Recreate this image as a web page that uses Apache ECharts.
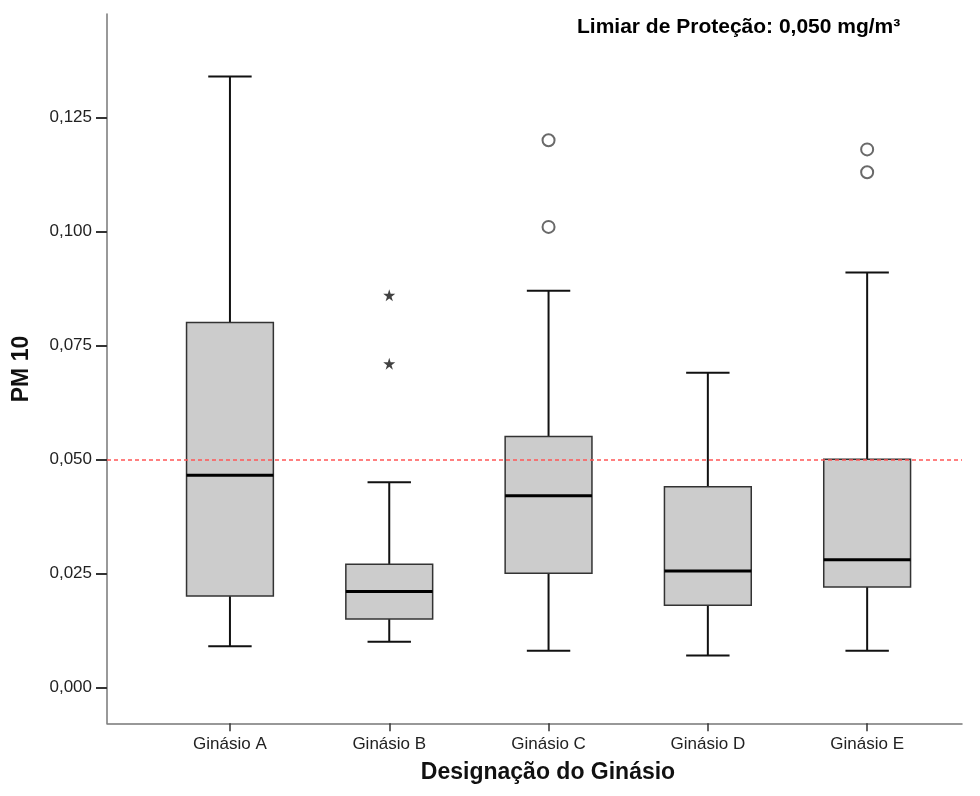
<!DOCTYPE html>
<html>
<head>
<meta charset="utf-8">
<script src="https://cdn.jsdelivr.net/npm/echarts@6/dist/echarts.min.js"></script>
<style>html,body{margin:0;padding:0;background:#fff}#c{width:980px;height:796px}</style>
</head>
<body>
<div id="c"></div>
<script>
const categories = ['Ginásio A', 'Ginásio B', 'Ginásio C', 'Ginásio D', 'Ginásio E'];
const lowerWhisker = [0.009, 0.010, 0.008, 0.007, 0.008];
const q1 = [0.020, 0.015, 0.025, 0.018, 0.022];
const median = [0.0465, 0.021, 0.042, 0.0255, 0.028];
const q3 = [0.080, 0.027, 0.055, 0.044, 0.050];
const upperWhisker = [0.134, 0.045, 0.087, 0.069, 0.091];
const outlierCategory = ['Ginásio C', 'Ginásio C', 'Ginásio E', 'Ginásio E'];
const outlierValue = [0.120, 0.101, 0.118, 0.113];
const extremeCategory = ['Ginásio B', 'Ginásio B'];
const extremeValue = [0.086, 0.071];
const yTicks = [0, 0.025, 0.05, 0.075, 0.1, 0.125];
const threshold = 0.050;
const yMin = -0.0079, yMax = 0.1477;

const FONT = '"Liberation Sans", Arial, sans-serif';
const chart = echarts.init(document.getElementById('c'), null, {renderer: 'canvas'});

const boxData = categories.map((c, i) => [i, lowerWhisker[i], q1[i], median[i], q3[i], upperWhisker[i]]);
const outData = outlierCategory.map((c, i) => [c, outlierValue[i]]);
const extData = extremeCategory.map((c, i) => [c, extremeValue[i]]);

function renderBox(params, api) {
  const x = api.value(0);
  const lo = api.coord([x, api.value(1)]);
  const p1 = api.coord([x, api.value(2)]);
  const pm = api.coord([x, api.value(3)]);
  const p3 = api.coord([x, api.value(4)]);
  const hi = api.coord([x, api.value(5)]);
  const band = api.size([1, 0])[0];
  const bw = band * 0.545;
  const cw = bw / 2;
  const cx = lo[0];
  const ws = {stroke: '#111', lineWidth: 2};
  return {
    type: 'group',
    children: [
      {type: 'line', shape: {x1: cx, y1: hi[1], x2: cx, y2: p3[1]}, style: ws},
      {type: 'line', shape: {x1: cx, y1: p1[1], x2: cx, y2: lo[1]}, style: ws},
      {type: 'line', shape: {x1: cx - cw / 2, y1: hi[1], x2: cx + cw / 2, y2: hi[1]}, style: ws},
      {type: 'line', shape: {x1: cx - cw / 2, y1: lo[1], x2: cx + cw / 2, y2: lo[1]}, style: ws},
      {type: 'rect', shape: {x: cx - bw / 2, y: p3[1], width: bw, height: p1[1] - p3[1]},
        style: {fill: '#cccccc', stroke: '#333', lineWidth: 1.5}},
      {type: 'line', shape: {x1: cx - bw / 2, y1: pm[1], x2: cx + bw / 2, y2: pm[1]},
        style: {stroke: '#000', lineWidth: 3}}
    ]
  };
}

const option = {
  backgroundColor: '#ffffff',
  animation: false,
  textStyle: {fontFamily: FONT},
  grid: [
    {left: 150.3, right: 33.2, top: 14, bottom: 72.7},
    {left: 107, right: 18, top: 14, bottom: 72.7}
  ],
  xAxis: [
    {
      type: 'category', gridIndex: 0, data: categories, boundaryGap: true, position: 'bottom',
      axisLine: {show: false, onZero: false},
      axisTick: {show: true, alignWithLabel: true, length: 8, lineStyle: {color: '#333', width: 1.5}},
      axisLabel: {fontSize: 17, color: '#222', margin: 13, fontFamily: FONT},
      splitLine: {show: false}
    },
    {
      type: 'value', gridIndex: 1, min: 0, max: 1, position: 'bottom',
      axisLine: {show: true, onZero: false, lineStyle: {color: '#777', width: 1.5}},
      axisTick: {show: false}, axisLabel: {show: false}, splitLine: {show: false}
    }
  ],
  yAxis: [
    {
      type: 'value', gridIndex: 0, min: yMin, max: yMax,
      show: false, splitLine: {show: false}
    },
    {
      type: 'value', gridIndex: 1, min: yMin, max: yMax, position: 'left',
      axisLine: {show: true, onZero: false, lineStyle: {color: '#777', width: 1.5}},
      axisTick: {show: true, customValues: yTicks, length: 11, lineStyle: {color: '#333', width: 2}},
      axisLabel: {
        show: true, customValues: yTicks, fontSize: 17, color: '#222', margin: 15, fontFamily: FONT,
        formatter: v => v.toFixed(3).replace('.', ',')
      },
      splitLine: {show: false}
    }
  ],
  series: [
    {
      type: 'line', xAxisIndex: 1, yAxisIndex: 1, data: [], silent: true,
      markLine: {
        silent: true, symbol: 'none', label: {show: false},
        lineStyle: {color: '#ff5555', type: [4, 3], width: 1.5},
        data: [{yAxis: threshold}]
      }
    },
    {
      type: 'custom', xAxisIndex: 0, yAxisIndex: 0, renderItem: renderBox,
      encode: {x: 0, y: [1, 2, 3, 4, 5]}, data: boxData, z: 3
    },
    {
      type: 'scatter', xAxisIndex: 0, yAxisIndex: 0, data: outData, symbol: 'circle', symbolSize: 12,
      itemStyle: {color: '#ffffff', borderColor: '#444', borderWidth: 2}, z: 4
    },
    {
      type: 'scatter', xAxisIndex: 0, yAxisIndex: 0, data: extData,
      symbol: 'path://M50,0 L61,35 L98,35 L68,57 L79,91 L50,70 L21,91 L32,57 L2,35 L39,35 Z',
      symbolSize: 12, itemStyle: {color: '#111'}, z: 4
    }
  ],
  graphic: [
    {
      type: 'text', x: 22, y: 369, rotation: Math.PI / 2,
      style: {text: 'PM 10', font: 'bold 23px ' + FONT, fill: '#111', textAlign: 'center', textVerticalAlign: 'middle'}
    },
    {
      type: 'text', x: 548, y: 773,
      style: {text: 'Designação do Ginásio', font: 'bold 23px ' + FONT, fill: '#111', textAlign: 'center', textVerticalAlign: 'middle'}
    },
    {
      type: 'text', x: 577, y: 27,
      style: {text: 'Limiar de Proteção: 0,050 mg/m³', font: 'bold 21px ' + FONT, fill: '#000', textAlign: 'left', textVerticalAlign: 'middle'}
    }
  ]
};
chart.setOption(option);
</script>
</body>
</html>
